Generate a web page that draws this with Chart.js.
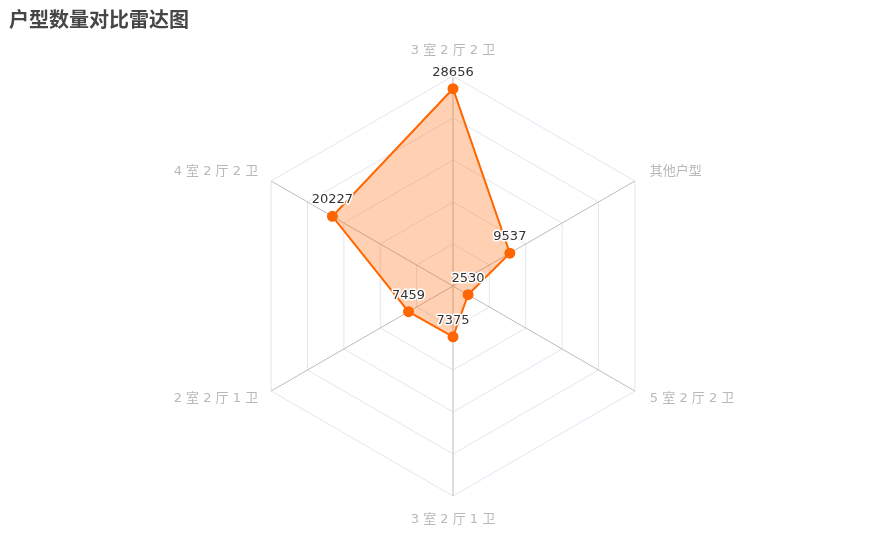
<!DOCTYPE html>
<html lang="zh">
<head>
<meta charset="utf-8" />
<title>户型数量对比雷达图</title>
<script src="https://cdn.jsdelivr.net/npm/chart.js@4.4.1/dist/chart.umd.min.js"></script>
<style>
	html, body { margin: 0; padding: 0; background: #fff; }
	#wrap { position: relative; width: 872px; height: 551px; }
	#title {
		position: absolute; left: 9px; top: 4px;
		font: bold 20px "Noto Sans CJK SC", "Noto Sans", sans-serif;
		color: #464646;
	}
</style>
</head>
<body>
<div id="wrap">
	<canvas id="radar" width="872" height="551"></canvas>
	<div id="title">户型数量对比雷达图</div>
</div>
<script>
	// categories in clockwise order starting from the top
	const categories = ['3 室 2 厅 2 卫', '其他户型', '5 室 2 厅 2 卫', '3 室 2 厅 1 卫', '2 室 2 厅 1 卫', '4 室 2 厅 2 卫'];
	const counts = [28656, 9537, 2530, 7375, 7459, 20227];
	const scaleMax = 30500;
	const ringCount = 5;

	const fontFamily = '"DejaVu Sans", "Noto Sans CJK SC", sans-serif';
	const nameGap = 15;

	// axis names placed like the original: beyond each vertex, aligned by direction
	const axisNames = {
		id: 'axisNames',
		afterDraw(chart) {
			const scale = chart.scales.r;
			const ctx = chart.ctx;
			ctx.save();
			ctx.font = '13px ' + fontFamily;
			ctx.fillStyle = '#b8b8b8';
			chart.data.labels.forEach((name, i) => {
				const p = scale.getPointPosition(i, scale.drawingArea + nameGap);
				const dx = p.x - scale.xCenter;
				const dy = p.y - scale.yCenter;
				let y = p.y;
				if (Math.abs(dx) < 1) {
					ctx.textAlign = 'center';
					ctx.textBaseline = dy < 0 ? 'bottom' : 'top';
					y += dy < 0 ? -4 : 2;
				} else {
					ctx.textAlign = dx > 0 ? 'left' : 'right';
					ctx.textBaseline = 'middle';
					y += dy < 0 ? -2 : 0;
				}
				ctx.fillText(name, p.x + (dx > 1 ? 2 : 0), y);
			});
			ctx.restore();
		}
	};

	// value labels above each point, with a white halo
	const valueLabels = {
		id: 'valueLabels',
		afterDatasetsDraw(chart) {
			const ctx = chart.ctx;
			const meta = chart.getDatasetMeta(0);
			ctx.save();
			ctx.font = '13px ' + fontFamily;
			ctx.textAlign = 'center';
			ctx.textBaseline = 'bottom';
			ctx.lineJoin = 'round';
			meta.data.forEach((pt, i) => {
				const txt = String(chart.data.datasets[0].data[i]);
				ctx.lineWidth = 3;
				ctx.strokeStyle = '#ffffff';
				ctx.strokeText(txt, pt.x, pt.y - 10);
				ctx.fillStyle = '#333333';
				ctx.fillText(txt, pt.x, pt.y - 10);
			});
			ctx.restore();
		}
	};

	new Chart(document.getElementById('radar').getContext('2d'), {
		type: 'radar',
		data: {
			labels: categories,
			datasets: [{
				label: '户型数量',
				data: counts,
				borderColor: '#ff6600',
				backgroundColor: 'rgba(255, 102, 0, 0.3)',
				borderWidth: 2,
				pointRadius: 4.5,
				pointHoverRadius: 4.5,
				pointBackgroundColor: '#ff6600',
				pointBorderColor: '#ff6600',
				fill: true,
				tension: 0
			}]
		},
		options: {
			responsive: false,
			animation: false,
			layout: { padding: { top: 76, bottom: 55, left: 34, right: 0 } },
			plugins: {
				legend: { display: false },
				tooltip: { enabled: false },
				title: { display: false }
			},
			scales: {
				r: {
					min: 0,
					max: scaleMax,
					ticks: { display: false, stepSize: scaleMax / ringCount },
					grid: { color: '#e0e6f1', lineWidth: 1 },
					angleLines: { color: '#bcbcbc', lineWidth: 1 },
					pointLabels: { display: false }
				}
			}
		},
		plugins: [axisNames, valueLabels]
	});
</script>
</body>
</html>
